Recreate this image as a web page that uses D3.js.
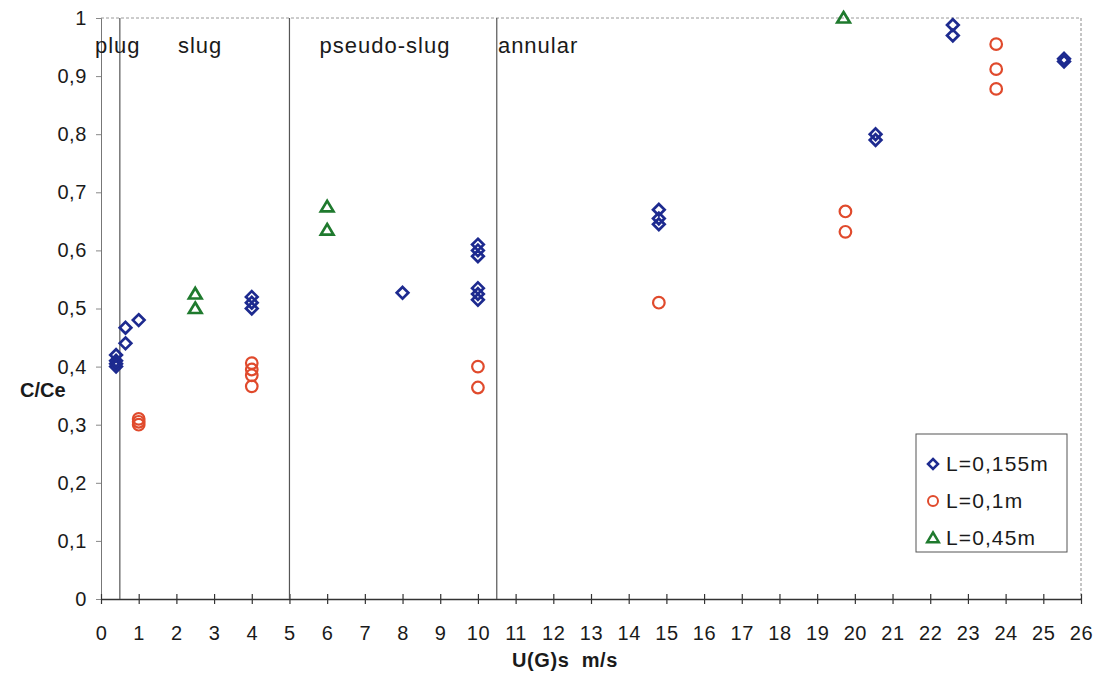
<!DOCTYPE html>
<html>
<head>
<meta charset="utf-8">
<script src="https://cdn.jsdelivr.net/npm/d3@7/dist/d3.min.js"></script>
<style>
  html, body { margin: 0; padding: 0; background: #fff; }
  svg { display: block; font-family: "Liberation Sans", Arial, sans-serif; }
</style>
</head>
<body>
<svg id="chart" width="1106" height="689"></svg>
<script>
// Concentration ratio C/Ce versus superficial gas velocity U(G)s
const series155 = [ // L = 0,155 m
  [0.4, 0.40], [0.4, 0.405], [0.4, 0.41], [0.4, 0.42],
  [0.65, 0.44], [0.65, 0.467], [1.0, 0.48],
  [4, 0.50], [4, 0.51], [4, 0.52],
  [8, 0.527],
  [10, 0.515], [10, 0.525], [10, 0.535], [10, 0.59], [10, 0.60], [10, 0.61],
  [14.8, 0.645], [14.8, 0.655], [14.8, 0.67],
  [20.55, 0.79], [20.55, 0.80],
  [22.6, 0.97], [22.6, 0.988],
  [25.55, 0.925], [25.55, 0.93]
];
const series01 = [ // L = 0,1 m
  [1.0, 0.30], [1.0, 0.305], [1.0, 0.31],
  [4, 0.366], [4, 0.385], [4, 0.395], [4, 0.406],
  [10, 0.364], [10, 0.40],
  [14.8, 0.51],
  [19.75, 0.632], [19.75, 0.667],
  [23.75, 0.878], [23.75, 0.912], [23.75, 0.955]
];
const series045 = [ // L = 0,45 m
  [2.5, 0.50], [2.5, 0.525],
  [6, 0.635], [6, 0.675],
  [19.7, 1.0]
];
const regimeBounds = [0.5, 5, 10.5];
const regimeLabels = [
  { name: "plug", x: -0.16 },
  { name: "slug", x: 2.04 },
  { name: "pseudo-slug", x: 5.8 },
  { name: "annular", x: 10.53 }
];
const xTicks = d3.range(0, 27);
const yTicks = d3.range(0, 11).map(d => d / 10);
const legendItems = ["L=0,155m", "L=0,1m", "L=0,45m"];

const colors = { blue: "#1d2a8f", red: "#e04a2c", green: "#1f7a2e" };
const ink = "#1a1a1a";

const svg = d3.select("#chart");
const margin = { left: 101, right: 25, top: 18, bottom: 90 };
const W = 1106, H = 689;

const x = d3.scaleLinear().domain([0, 26]).range([margin.left, W - margin.right]);
const y = d3.scaleLinear().domain([0, 1]).range([H - margin.bottom, margin.top]);

const fmt = d => d === 0 ? "0" : d === 1 ? "1" : d.toFixed(1).replace(".", ",");

// Plot frame: dashed top and right edges
svg.append("line")
  .attr("x1", x(0)).attr("x2", x(26)).attr("y1", y(1)).attr("y2", y(1))
  .attr("stroke", "#9a9a9a").attr("stroke-width", 1).attr("stroke-dasharray", "3,2");
svg.append("line")
  .attr("x1", x(26)).attr("x2", x(26)).attr("y1", y(1)).attr("y2", y(0))
  .attr("stroke", "#8a8a8a").attr("stroke-width", 1).attr("stroke-dasharray", "3,2");

// Y axis
const yAxis = svg.append("g")
  .attr("transform", `translate(${x(0)},0)`)
  .call(d3.axisLeft(y).tickValues(yTicks).tickFormat(fmt).tickSize(5).tickPadding(9));
yAxis.select(".domain").attr("stroke", "#777");
yAxis.selectAll(".tick line").attr("stroke", "#888");
yAxis.selectAll("text").attr("font-size", 20).attr("letter-spacing", 0.6).attr("fill", ink)
  .style("font-family", "Liberation Sans, Arial, sans-serif");

// X axis (ticks crossing the baseline)
const xAxis = svg.append("g")
  .attr("transform", `translate(0,${y(0)})`)
  .call(d3.axisBottom(x).tickValues(xTicks).tickFormat(d3.format("d")).tickSizeInner(5).tickSizeOuter(0).tickPadding(22));
xAxis.select(".domain").attr("stroke", "#333").attr("stroke-width", 1.3);
xAxis.selectAll(".tick line").attr("y1", -5).attr("stroke", "#333").attr("stroke-width", 1.2);
xAxis.selectAll("text").attr("font-size", 20).attr("letter-spacing", 0.6).attr("fill", ink)
  .style("font-family", "Liberation Sans, Arial, sans-serif");

// Flow regime boundaries
svg.selectAll(".regime-line").data(regimeBounds).enter().append("line")
  .attr("class", "regime-line")
  .attr("x1", d => x(d)).attr("x2", d => x(d))
  .attr("y1", y(1)).attr("y2", y(0))
  .attr("stroke", "#555").attr("stroke-width", 1.2);

svg.selectAll(".regime-label").data(regimeLabels).enter().append("text")
  .attr("class", "regime-label")
  .attr("x", d => x(d.x)).attr("y", y(0.94))
  .attr("font-size", 22).attr("letter-spacing", 1).attr("fill", ink)
  .text(d => d.name);

// Axis titles
svg.append("text")
  .attr("x", 20).attr("y", 397)
  .attr("font-size", 20).attr("font-weight", "bold").attr("fill", ink)
  .text("C/Ce");
svg.append("text")
  .attr("x", 565).attr("y", 667).attr("text-anchor", "middle")
  .attr("font-size", 20).attr("letter-spacing", 0.6).attr("font-weight", "bold").attr("fill", ink)
  .style("white-space", "pre")
  .text("U(G)s  m/s");

// Marker shapes
const diamondPath = s => `M0,${-s}L${s},0L0,${s}L${-s},0Z`;
const trianglePath = s => `M0,${-s}L${s * 1.05},${s * 0.75}L${-s * 1.05},${s * 0.75}Z`;

function drawDiamonds(g, data) {
  g.selectAll("path.d").data(data).enter().append("path")
    .attr("class", "d")
    .attr("transform", d => `translate(${x(d[0])},${y(d[1])})`)
    .attr("d", diamondPath(5.8))
    .attr("fill", "none").attr("stroke", colors.blue).attr("stroke-width", 2.7);
}
function drawCircles(g, data) {
  g.selectAll("circle").data(data).enter().append("circle")
    .attr("cx", d => x(d[0])).attr("cy", d => y(d[1])).attr("r", 5.8)
    .attr("fill", "none").attr("stroke", colors.red).attr("stroke-width", 2.2);
}
function drawTriangles(g, data) {
  g.selectAll("path.t").data(data).enter().append("path")
    .attr("class", "t")
    .attr("transform", d => `translate(${x(d[0])},${y(d[1])})`)
    .attr("d", trianglePath(6))
    .attr("fill", "none").attr("stroke", colors.green).attr("stroke-width", 2.7);
}

drawDiamonds(svg.append("g"), series155);
drawCircles(svg.append("g"), series01);
drawTriangles(svg.append("g"), series045);

// Legend
const lg = svg.append("g").attr("transform", "translate(916,434)");
lg.append("rect").attr("width", 151).attr("height", 118)
  .attr("fill", "#fff").attr("stroke", "#555").attr("stroke-width", 1);
legendItems.forEach((label, i) => {
  const cy = 30 + i * 37;
  const m = lg.append("g").attr("transform", `translate(17,${cy})`);
  if (i === 0) m.append("path").attr("d", diamondPath(5)).attr("fill", "none").attr("stroke", colors.blue).attr("stroke-width", 2.5);
  if (i === 1) m.append("circle").attr("r", 5).attr("fill", "none").attr("stroke", colors.red).attr("stroke-width", 2);
  if (i === 2) m.append("path").attr("d", trianglePath(5.5)).attr("fill", "none").attr("stroke", colors.green).attr("stroke-width", 2.5);
  lg.append("text").attr("x", 30).attr("y", cy + 7)
    .attr("font-size", 21).attr("letter-spacing", 1.1).attr("fill", ink).text(label);
});
</script>
</body>
</html>
